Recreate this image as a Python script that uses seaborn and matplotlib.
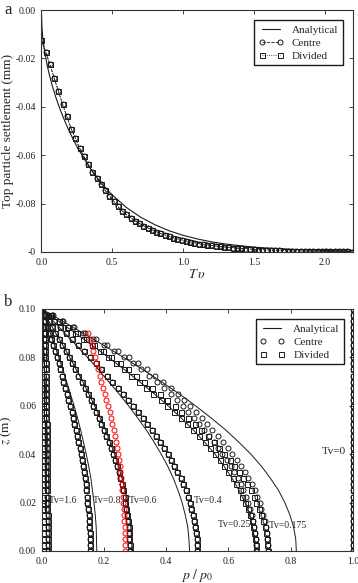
import matplotlib
matplotlib.use('Agg')
import matplotlib.pyplot as plt
import seaborn as sns
import pandas as pd
from matplotlib.lines import Line2D

# ---------------- panel a: top particle settlement ----------------
tv_analytical = [0.0, 0.005, 0.01, 0.02, 0.04, 0.06, 0.08, 0.1, 0.125, 0.15, 0.175, 0.2,
                 0.25, 0.3, 0.35, 0.4, 0.45, 0.5, 0.6, 0.7, 0.8, 0.9, 1.0, 1.1, 1.2,
                 1.3, 1.4, 1.5, 1.6, 1.8, 2.0, 2.2]
settle_analytical = [0.0, -0.0080, -0.0113, -0.0160, -0.0226, -0.0276, -0.0319, -0.0357,
                     -0.0399, -0.0437, -0.0472, -0.0505, -0.0563, -0.0613, -0.0658, -0.0698,
                     -0.0733, -0.0764, -0.0816, -0.0856, -0.0887, -0.0912, -0.0931, -0.0946,
                     -0.0958, -0.0967, -0.0974, -0.0980, -0.0984, -0.0990, -0.0994, -0.0996]

tv_model = [0.00, 0.03, 0.06, 0.09, 0.12, 0.15, 0.18, 0.21, 0.24, 0.27, 0.30, 0.33, 0.36,
            0.39, 0.42, 0.45, 0.48, 0.51, 0.54, 0.57, 0.60, 0.63, 0.66, 0.69, 0.72, 0.75,
            0.78, 0.81, 0.84, 0.87, 0.90, 0.93, 0.96, 0.99, 1.02, 1.05, 1.08, 1.11, 1.14,
            1.17, 1.20, 1.23, 1.26, 1.29, 1.32, 1.35, 1.38, 1.41, 1.44, 1.47, 1.50, 1.53,
            1.56, 1.59, 1.62, 1.65, 1.68, 1.71, 1.74, 1.77, 1.80, 1.83, 1.86, 1.89, 1.92,
            1.95, 1.98, 2.01, 2.04, 2.07, 2.10, 2.13, 2.16, 2.19]
settle_centre = [-0.0123, -0.0172, -0.0225, -0.0280, -0.0335, -0.0390, -0.0440, -0.0490,
                 -0.0530, -0.0570, -0.0605, -0.0638, -0.0668, -0.0695, -0.0720, -0.0745,
                 -0.0768, -0.0790, -0.0812, -0.0830, -0.0845, -0.0858, -0.0870, -0.0881,
                 -0.0891, -0.0900, -0.0908, -0.0916, -0.0923, -0.0929, -0.0935, -0.0941,
                 -0.0946, -0.0950, -0.0954, -0.0958, -0.0962, -0.0965, -0.0968, -0.0970,
                 -0.0973, -0.0975, -0.0977, -0.0979, -0.0981, -0.0982, -0.0984, -0.0985,
                 -0.0986, -0.0988, -0.0989, -0.0990, -0.0990, -0.0991, -0.0992, -0.0993,
                 -0.0993, -0.0994, -0.0994, -0.0995, -0.0995, -0.0996, -0.0996, -0.0996,
                 -0.0997, -0.0997, -0.0997, -0.0997, -0.0998, -0.0998, -0.0998, -0.0998,
                 -0.0998, -0.0999]
# centre and divided results lie on top of each other in panel a
settle_divided = list(settle_centre)

# ---------------- panel b: pore pressure isochrones ----------------
z_line = [0.0, 0.005, 0.01, 0.015, 0.02, 0.025, 0.03, 0.035, 0.04, 0.045, 0.05,
          0.055, 0.06, 0.065, 0.07, 0.075, 0.08, 0.085, 0.09, 0.095, 0.1]
an_0175 = [0.818, 0.816, 0.809, 0.797, 0.781, 0.761, 0.735, 0.706, 0.672, 0.633, 0.591,
           0.544, 0.494, 0.441, 0.384, 0.324, 0.263, 0.199, 0.133, 0.067, 0.0]
an_025 = [0.686, 0.684, 0.677, 0.667, 0.653, 0.634, 0.612, 0.586, 0.557, 0.523, 0.487,
          0.448, 0.406, 0.361, 0.314, 0.265, 0.214, 0.162, 0.108, 0.054, 0.0]
an_04 = [0.475, 0.473, 0.469, 0.461, 0.451, 0.438, 0.423, 0.405, 0.384, 0.361, 0.336,
         0.308, 0.279, 0.248, 0.215, 0.182, 0.147, 0.111, 0.074, 0.037, 0.0]
an_06 = [0.290, 0.289, 0.286, 0.282, 0.276, 0.268, 0.258, 0.247, 0.234, 0.220, 0.205,
         0.188, 0.170, 0.151, 0.132, 0.111, 0.090, 0.068, 0.045, 0.023, 0.0]
an_08 = [0.177, 0.176, 0.175, 0.172, 0.168, 0.163, 0.158, 0.151, 0.143, 0.134, 0.125,
         0.115, 0.104, 0.092, 0.080, 0.068, 0.055, 0.041, 0.028, 0.014, 0.0]
an_16 = [0.025, 0.025, 0.024, 0.024, 0.023, 0.023, 0.022, 0.021, 0.020, 0.019, 0.017,
         0.016, 0.015, 0.013, 0.011, 0.009, 0.008, 0.006, 0.004, 0.002, 0.0]

z_nodes = [0.0, 0.0025, 0.005, 0.0075, 0.01, 0.0125, 0.015, 0.0175, 0.02, 0.0225,
           0.025, 0.0275, 0.03, 0.0325, 0.035, 0.0375, 0.04, 0.0425, 0.045, 0.0475,
           0.05, 0.0525, 0.055, 0.0575, 0.06, 0.0625, 0.065, 0.0675, 0.07, 0.0725,
           0.075, 0.0775, 0.08, 0.0825, 0.085, 0.0875, 0.09, 0.0925, 0.095, 0.0975, 0.1]
# centre-node results (circles)
centre_0175 = [0.726, 0.726, 0.725, 0.723, 0.720, 0.716, 0.712, 0.706, 0.700, 0.692, 0.684,
               0.675, 0.664, 0.653, 0.640, 0.627, 0.612, 0.597, 0.582, 0.566, 0.548, 0.532,
               0.515, 0.497, 0.478, 0.458, 0.437, 0.414, 0.390, 0.365, 0.338, 0.310, 0.280,
               0.245, 0.210, 0.175, 0.140, 0.105, 0.070, 0.035, 0.0]
centre_025 = [0.688, 0.688, 0.687, 0.685, 0.683, 0.679, 0.675, 0.669, 0.664, 0.656, 0.648,
              0.640, 0.629, 0.619, 0.607, 0.594, 0.580, 0.566, 0.552, 0.537, 0.520, 0.504,
              0.488, 0.471, 0.453, 0.434, 0.414, 0.392, 0.370, 0.346, 0.320, 0.294, 0.265,
              0.232, 0.199, 0.166, 0.133, 0.100, 0.066, 0.033, 0.0]
# divided-cell results (squares)
divided_0175 = [0.726, 0.725, 0.724, 0.721, 0.717, 0.712, 0.706, 0.699, 0.690, 0.681, 0.671,
                0.659, 0.647, 0.633, 0.619, 0.604, 0.587, 0.570, 0.552, 0.533, 0.513, 0.493,
                0.471, 0.449, 0.427, 0.403, 0.379, 0.355, 0.330, 0.304, 0.278, 0.251, 0.224,
                0.197, 0.169, 0.142, 0.114, 0.085, 0.057, 0.029, 0.0]
divided_025 = [0.688, 0.687, 0.686, 0.683, 0.680, 0.675, 0.669, 0.662, 0.654, 0.645, 0.636,
               0.625, 0.613, 0.600, 0.587, 0.572, 0.557, 0.540, 0.523, 0.505, 0.486, 0.467,
               0.447, 0.426, 0.404, 0.382, 0.359, 0.336, 0.312, 0.288, 0.263, 0.238, 0.213,
               0.187, 0.161, 0.134, 0.108, 0.081, 0.054, 0.027, 0.0]
# both schemes coincide for these times
num_04 = [0.500, 0.500, 0.498, 0.497, 0.494, 0.490, 0.486, 0.481, 0.476, 0.469, 0.462,
          0.454, 0.446, 0.436, 0.426, 0.416, 0.405, 0.393, 0.380, 0.367, 0.354, 0.339,
          0.325, 0.310, 0.294, 0.278, 0.261, 0.244, 0.227, 0.209, 0.191, 0.173, 0.155,
          0.136, 0.117, 0.098, 0.078, 0.059, 0.039, 0.020, 0.0]
num_06 = [0.283, 0.283, 0.282, 0.281, 0.280, 0.278, 0.275, 0.272, 0.269, 0.266, 0.261,
          0.257, 0.252, 0.247, 0.241, 0.235, 0.229, 0.222, 0.215, 0.208, 0.200, 0.192,
          0.184, 0.175, 0.166, 0.157, 0.148, 0.138, 0.128, 0.118, 0.108, 0.098, 0.087,
          0.077, 0.066, 0.055, 0.044, 0.033, 0.022, 0.011, 0.0]
num_08 = [0.155, 0.155, 0.155, 0.154, 0.153, 0.152, 0.151, 0.149, 0.147, 0.145, 0.143,
          0.141, 0.138, 0.135, 0.132, 0.129, 0.125, 0.122, 0.118, 0.114, 0.110, 0.105,
          0.101, 0.096, 0.091, 0.086, 0.081, 0.076, 0.070, 0.065, 0.059, 0.054, 0.048,
          0.042, 0.036, 0.030, 0.024, 0.018, 0.012, 0.006, 0.0]
centre_16 = [0.019, 0.019, 0.019, 0.019, 0.019, 0.019, 0.019, 0.018, 0.018, 0.018, 0.018,
             0.018, 0.018, 0.017, 0.017, 0.017, 0.017, 0.017, 0.016, 0.016, 0.016, 0.016,
             0.015, 0.015, 0.015, 0.015, 0.014, 0.014, 0.014, 0.013, 0.013, 0.013, 0.012,
             0.012, 0.012, 0.011, 0.011, 0.010, 0.009, 0.006, 0.0]
divided_16 = [0.004] * 40 + [0.0]
num_0 = [1.0] * 41

red_z = [0.0, 0.0025, 0.005, 0.0075, 0.01, 0.0125, 0.015, 0.0175, 0.02, 0.0225, 0.025,
         0.0275, 0.03, 0.0325, 0.035, 0.0375, 0.04, 0.0425, 0.045, 0.0475, 0.05, 0.0525,
         0.055, 0.0575, 0.06, 0.0625, 0.065, 0.0675, 0.07, 0.0725, 0.075, 0.0775, 0.08,
         0.0825, 0.085, 0.0875, 0.09]
red_p = [0.268, 0.268, 0.267, 0.267, 0.266, 0.265, 0.264, 0.263, 0.262, 0.260, 0.259,
         0.257, 0.255, 0.253, 0.250, 0.248, 0.245, 0.242, 0.238, 0.235, 0.231, 0.227,
         0.223, 0.218, 0.213, 0.208, 0.203, 0.198, 0.192, 0.187, 0.181, 0.176, 0.170,
         0.165, 0.160, 0.155, 0.150]

tv_labels = ['Tv=1.6', 'Tv=0.8', 'Tv=0.6', 'Tv=0.4', 'Tv=0.25', 'Tv=0.175', 'Tv=0']
tv_label_p = [0.022, 0.164, 0.279, 0.490, 0.565, 0.728, 0.900]
tv_label_z = [0.0207, 0.0207, 0.0207, 0.0207, 0.0109, 0.0104, 0.041]

sns.set_theme(style='ticks')
plt.rcParams['font.family'] = ['Liberation Serif', 'DejaVu Serif']
plt.rcParams['mathtext.fontset'] = 'stix'
plt.rcParams['xtick.direction'] = 'in'
plt.rcParams['ytick.direction'] = 'in'
plt.rcParams['xtick.top'] = True
plt.rcParams['ytick.right'] = True
plt.rcParams['axes.edgecolor'] = '#333333'
plt.rcParams['axes.linewidth'] = 0.8

fig = plt.figure(figsize=(3.58, 5.83), dpi=100)
ax1 = fig.add_axes([0.1155, 0.5678, 0.8705, 0.415])
ax2 = fig.add_axes([0.1165, 0.0549, 0.8695, 0.4151])

mk = dict(markersize=3.6, markerfacecolor='none', markeredgecolor='k', markeredgewidth=0.7)

# panel a
df_an = pd.DataFrame({'Tv': tv_analytical, 's': settle_analytical})
df_num = pd.DataFrame({'Tv': tv_model, 'centre': settle_centre, 'divided': settle_divided})
sns.lineplot(data=df_an, x='Tv', y='s', ax=ax1, color='k', lw=0.8, estimator=None, sort=False)
sns.lineplot(data=df_num, x='Tv', y='centre', ax=ax1, color='k', lw=0.6, ls='--',
             marker='o', estimator=None, sort=False, **mk)
sns.lineplot(data=df_num, x='Tv', y='divided', ax=ax1, color='k', lw=0.6, ls=':',
             marker='s', estimator=None, sort=False, **mk)
ax1.set_xlim(0, 2.2)
ax1.set_ylim(-0.1, 0)
ax1.set_xticks([0, 0.5, 1.0, 1.5, 2.0])
ax1.set_xticklabels(['0.0', '0.5', '1.0', '1.5', '2.0'])
ax1.set_yticks([0, -0.02, -0.04, -0.06, -0.08, -0.1])
ax1.set_yticklabels(['0.00', '-0.02', '-0.04', '-0.06', '-0.08', '-0'])
ax1.set_xlabel('$T\\,\\upsilon$', fontsize=10, labelpad=1)
ax1.set_ylabel('Top particle settlement (mm)', fontsize=9.5)
ax1.yaxis.set_label_coords(-0.088, 0.5)
h_a = [Line2D([], [], color='k', lw=0.8),
       Line2D([], [], color='k', lw=0.6, ls='--', marker='o', **mk),
       Line2D([], [], color='k', lw=0.6, ls=':', marker='s', **mk)]
ax1.legend(h_a, ['Analytical', 'Centre', 'Divided'], loc='upper right', fontsize=8,
           numpoints=2, handlelength=2.2, fancybox=False, edgecolor='k', framealpha=1,
           borderpad=0.4, labelspacing=0.3, bbox_to_anchor=(0.985, 0.98))

# panel b
for pp in [an_0175, an_025, an_04, an_06, an_08, an_16]:
    sns.lineplot(x=pp, y=z_line, ax=ax2, color='k', lw=0.7, estimator=None, sort=False)
ax2.plot([1.0, 1.0], [0, 0.1], color='k', lw=0.7)
for pp in [centre_0175, centre_025, num_04, num_06, num_08, centre_16, num_0]:
    sns.lineplot(x=pp, y=z_nodes, ax=ax2, color='k', ls='none', marker='o',
                 estimator=None, sort=False, **mk)
for pp in [divided_0175, divided_025, num_04, num_06, num_08, centre_16, divided_16, num_0]:
    sns.lineplot(x=pp, y=z_nodes, ax=ax2, color='k', ls='none', marker='s',
                 estimator=None, sort=False, **mk)
sns.lineplot(x=red_p, y=red_z, ax=ax2, color='red', ls='none', marker='o', estimator=None,
             sort=False, markersize=3.6, markerfacecolor='none', markeredgecolor='red',
             markeredgewidth=0.7)
for lab, px, pz in zip(tv_labels, tv_label_p, tv_label_z):
    ax2.text(px, pz, lab, fontsize=7 if lab != 'Tv=0' else 8, va='center', ha='left')
ax2.set_xlim(0, 1.0)
ax2.set_ylim(0, 0.1)
ax2.set_xticks([0, 0.2, 0.4, 0.6, 0.8, 1.0])
ax2.set_xticklabels(['0.0', '0.2', '0.4', '0.6', '0.8', '1.0'])
ax2.set_yticks([0, 0.02, 0.04, 0.06, 0.08, 0.1])
ax2.set_yticklabels(['0.00', '0.02', '0.04', '0.06', '0.08', '0.10'])
ax2.set_xlabel('$p\\ /\\ p_0$', fontsize=10, labelpad=1)
ax2.set_ylabel('$z$ (m)', fontsize=9.5)
ax2.yaxis.set_label_coords(-0.088, 0.5)
h_b = [Line2D([], [], color='k', lw=0.8),
       Line2D([], [], color='k', ls='none', marker='o', **mk),
       Line2D([], [], color='k', ls='none', marker='s', **mk)]
ax2.legend(h_b, ['Analytical', 'Centre', 'Divided'], loc='upper right', fontsize=8,
           numpoints=2, handlelength=2.2, fancybox=False, edgecolor='k', framealpha=1,
           borderpad=0.4, labelspacing=0.3, bbox_to_anchor=(0.99, 0.98))

for ax in (ax1, ax2):
    ax.tick_params(labelsize=7, length=3, width=0.6, pad=4, colors='#222222')

fig.text(0.012, 0.982, 'a', fontsize=12, va='center')
fig.text(0.012, 0.482, 'b', fontsize=12, va='center')

fig.savefig('out.png', dpi=100)
